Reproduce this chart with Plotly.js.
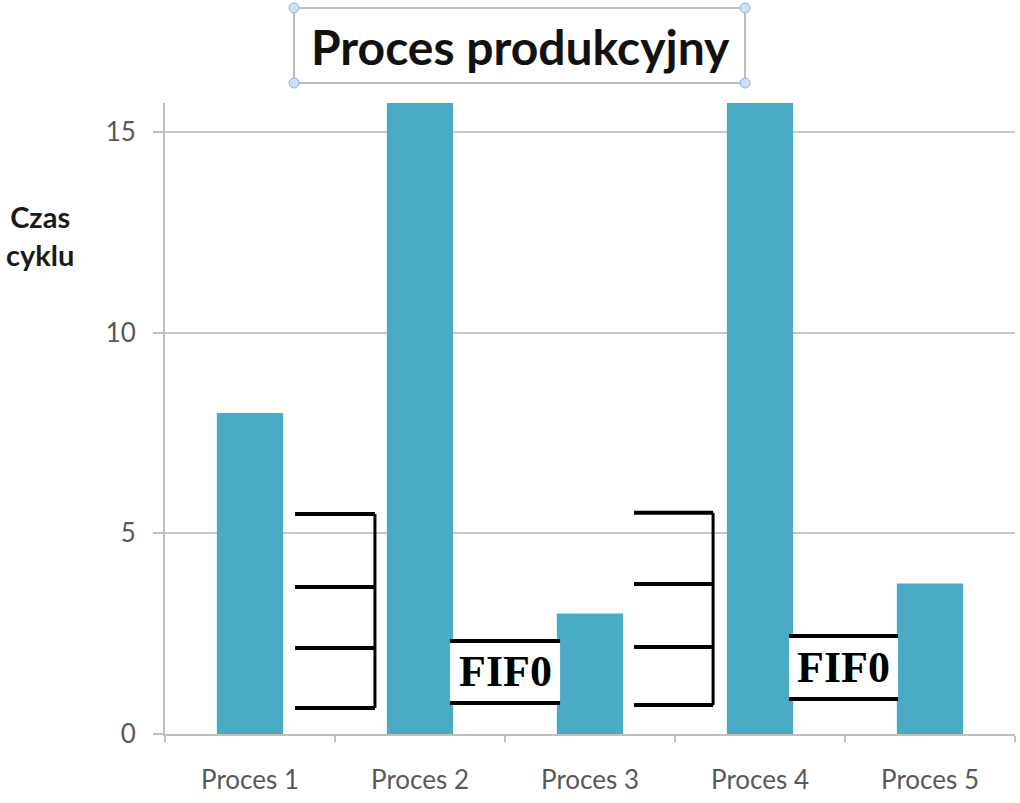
<!DOCTYPE html>
<html>
<head>
<meta charset="utf-8">
<script src="https://cdn.plot.ly/plotly-3.0.1.min.js"></script>
<style>html,body{margin:0;padding:0;background:#fff;}#chart{width:1020px;height:803px;}</style>
</head>
<body>
<div id="chart"></div>
<script>
// Data
const categories = ["Proces 1", "Proces 2", "Proces 3", "Proces 4", "Proces 5"];
const cycleTimes = [8, 16, 3, 16, 3.75];
const yTicks = [0, 5, 10, 15];
const titleText = "Proces produkcyjny";
const yTitleLines = ["Czas", "cyklu"];
const fifoLabel = "FIF0";

// Decorations (buffer combs and FIFO lanes) in axis units
const combs = [
  {x0: 0.265, x1: 0.735, ys: [5.48, 3.66, 2.14, 0.65]},
  {x0: 2.259, x1: 2.724, ys: [5.51, 3.74, 2.17, 0.72]}
];
const fifos = [
  {x0: 1.176, x1: 1.824, yTop: 2.32, yBot: 0.77},
  {x0: 3.171, x1: 3.812, yTop: 2.44, yBot: 0.87}
];

const shapes = [];
const annotations = [];
const blk = {color: "#000", width: 4};
combs.forEach(c => {
  c.ys.forEach(y => shapes.push({type: "line", xref: "x", yref: "y", x0: c.x0, x1: c.x1, y0: y, y1: y, line: blk}));
  shapes.push({type: "line", xref: "x", yref: "y", x0: c.x1, x1: c.x1, y0: c.ys[0], y1: c.ys[c.ys.length - 1], line: {color: "#000", width: 3}});
});
fifos.forEach(f => {
  shapes.push({type: "rect", xref: "x", yref: "y", x0: f.x0, x1: f.x1, y0: f.yBot, y1: f.yTop, fillcolor: "#fff", line: {width: 0}});
  shapes.push({type: "line", xref: "x", yref: "y", x0: f.x0, x1: f.x1, y0: f.yTop, y1: f.yTop, line: blk});
  shapes.push({type: "line", xref: "x", yref: "y", x0: f.x0, x1: f.x1, y0: f.yBot, y1: f.yBot, line: blk});
  annotations.push({xref: "x", yref: "y", x: (f.x0 + f.x1) / 2, y: (f.yTop + f.yBot) / 2, text: "<b>" + fifoLabel + "</b>", showarrow: false, xanchor: "center", yanchor: "middle", font: {family: "Liberation Serif, DejaVu Serif, serif", size: 44, color: "#000"}});
});

// Title frame (selection box look)
const bx0 = 0.1518, bx1 = 0.6824, by0 = 1.0317, by1 = 1.1506;
shapes.push({type: "rect", xref: "paper", yref: "paper", x0: bx0, x1: bx1, y0: by0, y1: by1, line: {color: "#bdbdbd", width: 2}, fillcolor: "rgba(0,0,0,0)"});
[[bx0, by0], [bx1, by0], [bx0, by1], [bx1, by1]].forEach(p => {
  shapes.push({type: "circle", xref: "paper", yref: "paper", xsizemode: "pixel", ysizemode: "pixel", xanchor: p[0], yanchor: p[1], x0: -5, x1: 5, y0: -5, y1: 5, fillcolor: "#cfe0f2", line: {color: "#8fb4dc", width: 1}});
});

annotations.push({xref: "paper", yref: "paper", x: -0.147, y: 0.79, text: "<b>" + yTitleLines.join("<br>") + "</b>", showarrow: false, xanchor: "center", yanchor: "middle", align: "center", font: {family: "Lato, sans-serif", size: 29, color: "#1a1a1a"}});

const trace = {
  type: "bar",
  x: categories,
  y: cycleTimes,
  marker: {color: "#4aabc5"},
  hoverinfo: "none"
};

const layout = {
  width: 1020,
  height: 803,
  margin: {l: 165, r: 5, t: 103, b: 69},
  paper_bgcolor: "#fff",
  plot_bgcolor: "#fff",
  bargap: 0.61,
  showlegend: false,
  title: {
    text: "<b>" + titleText + "</b>",
    xref: "container", yref: "container",
    x: 0.51, y: 0.94, xanchor: "center", yanchor: "middle",
    font: {family: "Lato, sans-serif", size: 48, color: "#111"}
  },
  xaxis: {
    type: "category",
    showgrid: false,
    showline: true, linecolor: "#bfbfbf", linewidth: 2,
    ticks: "outside", tickson: "boundaries", ticklen: 6, tickcolor: "#bfbfbf", tickwidth: 2,
    ticklabelstandoff: 22,
    tickfont: {family: "Lato, sans-serif", size: 26, color: "#595959"},
    fixedrange: true
  },
  yaxis: {
    range: [0, 15.72],
    tickvals: yTicks,
    ticktext: yTicks.map(String),
    showgrid: true, gridcolor: "#c8c8c8", gridwidth: 2,
    zeroline: false,
    showline: true, linecolor: "#bfbfbf", linewidth: 2,
    ticks: "outside", ticklen: 10, tickcolor: "#bfbfbf", tickwidth: 2,
    ticklabelstandoff: 12,
    tickfont: {family: "Lato, sans-serif", size: 26, color: "#595959"},
    fixedrange: true
  },
  shapes: shapes,
  annotations: annotations
};

Plotly.newPlot("chart", [trace], layout, {displayModeBar: false, staticPlot: true});
</script>
</body>
</html>
